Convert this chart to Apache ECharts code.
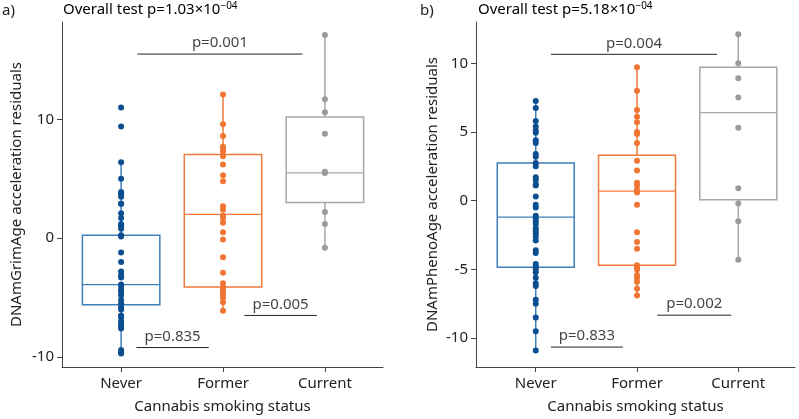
<!DOCTYPE html>
<html><head><meta charset="utf-8">
<script src="https://cdn.jsdelivr.net/npm/echarts@6/dist/echarts.min.js"></script>
<style>html,body{margin:0;padding:0;background:#fff}#c{width:799px;height:419px}</style>
</head><body><div id="c"></div>
<script>
const categories = ['Never','Former','Current'];
// Panel a: DNAmGrimAge
const grimNever = [11.0,9.4,6.4,5.0,3.9,3.7,3.5,2.9,2.9,2.1,1.7,1.2,1.0,0.8,0.25,0.15,-1.2,-2.0,-2.8,-3.1,-3.3,-3.9,-4.0,-4.3,-4.5,-4.8,-5.2,-5.5,-5.8,-6.0,-6.5,-6.7,-7.0,-7.2,-7.4,-7.6,-9.4,-9.6,-9.7];
const grimFormer = [12.1,9.6,8.6,7.7,7.5,7.3,6.9,6.2,5.3,4.8,2.7,2.4,1.9,1.7,1.3,0.5,-0.1,-1.6,-2.9,-3.8,-4.1,-4.3,-4.6,-4.8,-5.0,-5.4,-6.1];
const grimCurrent = [17.1,11.7,10.6,8.8,5.5,5.6,2.2,1.2,-0.8];
// [whiskerMin, Q1, median, Q3, whiskerMax]
const grimBoxes = [[-9.7,-5.6,-3.9,0.25,6.4],[-6.1,-4.1,2.0,7.05,12.1],[-0.8,3.0,5.5,10.2,17.1]];
// Panel b: DNAmPhenoAge
const phenoNever = [7.25,6.75,5.8,5.4,5.1,4.95,4.4,4.2,3.4,3.2,2.75,2.5,1.7,1.5,1.2,1.1,0.3,-0.3,-0.5,-1.1,-1.3,-1.5,-1.7,-2.0,-2.2,-2.4,-2.6,-2.9,-3.6,-3.8,-4.6,-4.8,-5.0,-5.2,-5.6,-6.0,-6.2,-7.2,-7.5,-8.5,-9.5,-10.9];
const phenoFormer = [9.7,8.0,6.6,6.1,5.7,5.0,4.85,4.2,2.9,2.2,1.3,1.1,0.8,0.6,-0.3,-2.3,-3.0,-3.5,-4.7,-4.85,-5.0,-5.4,-5.6,-5.9,-6.4,-6.9];
const phenoCurrent = [12.1,10.0,8.9,7.5,5.3,0.9,-0.2,-1.5,-4.3];
const phenoBoxes = [[-10.9,-4.85,-1.2,2.75,7.25],[-6.9,-4.7,0.7,3.3,9.7],[-4.3,0.07,6.4,9.7,12.1]];
// brackets: [x1, x2, y, label]
const grimBrackets = [[0.16,1.78,15.5,'p=0.001'],[0.15,0.86,-9.2,'p=0.835'],[1.21,1.92,-6.5,'p=0.005']];
const phenoBrackets = [[0.15,1.79,10.65,'p=0.004'],[0.15,0.86,-10.65,'p=0.833'],[1.2,1.93,-8.33,'p=0.002']];
const overallA = ['1.03','−04'];
const overallB = ['5.18','−04'];

const pointColors = ['#0b4f90','#f07533','#9b9b9b'];
const boxColors = ['#3f7fba','#f07a3c','#a8a8a8'];
const FONT = 'Noto Sans';

const chart = echarts.init(document.getElementById('c'));
const series = [];
function panel(idx, groups, boxes, brackets){
  groups.forEach((g,i)=>{
    const b = boxes[i];
    series.push({type:'line',xAxisIndex:idx,yAxisIndex:idx,data:[[i,b[0]],[i,b[1]]],symbol:'none',lineStyle:{color:boxColors[i],width:1.5},z:2,silent:true});
    series.push({type:'line',xAxisIndex:idx,yAxisIndex:idx,data:[[i,b[3]],[i,b[4]]],symbol:'none',lineStyle:{color:boxColors[i],width:1.5},z:2,silent:true});
    series.push({type:'custom',xAxisIndex:idx,yAxisIndex:idx,data:[[i,b[1],b[2],b[3]]],z:1,
      renderItem:(params,api)=>{
        const x=api.value(0), hw=0.38;
        const p1=api.coord([x-hw,api.value(3)]), p2=api.coord([x+hw,api.value(1)]);
        const m1=api.coord([x-hw,api.value(2)]), m2=api.coord([x+hw,api.value(2)]);
        return {type:'group',children:[
          {type:'rect',shape:{x:p1[0],y:p1[1],width:p2[0]-p1[0],height:p2[1]-p1[1]},style:{fill:'#fff',stroke:boxColors[i],lineWidth:1.5}},
          {type:'line',shape:{x1:m1[0],y1:m1[1],x2:m2[0],y2:m2[1]},style:{stroke:boxColors[i],lineWidth:1.2}}
        ]};
      }});
    series.push({type:'scatter',xAxisIndex:idx,yAxisIndex:idx,data:g.map(v=>[i,v]),symbolSize:6,itemStyle:{color:pointColors[i],opacity:1},z:5});
  });
  brackets.forEach(br=>{
    series.push({type:'line',xAxisIndex:idx,yAxisIndex:idx,data:[[br[0],br[2]],[br[1],br[2]]],symbol:'none',lineStyle:{color:'#222',width:1},silent:true});
    series.push({type:'scatter',xAxisIndex:idx,yAxisIndex:idx,data:[[(br[0]+br[1])/2,br[2]]],symbolSize:1,itemStyle:{color:'rgba(0,0,0,0)'},
      label:{show:true,position:'top',distance:3,formatter:br[3],color:'#111',fontSize:15,fontFamily:FONT},silent:true});
  });
}
panel(0,[grimNever,grimFormer,grimCurrent],grimBoxes,grimBrackets);
panel(1,[phenoNever,phenoFormer,phenoCurrent],phenoBoxes,phenoBrackets);

const xAxisBase = {type:'value',min:-0.58,max:2.57,splitLine:{show:false},
  axisLine:{onZero:false,lineStyle:{color:'#444'}},axisTick:{customValues:[0,1,2],lineStyle:{color:'#444'}},
  axisLabel:{customValues:[0,1,2],formatter:v=>categories[Math.round(v)],color:'#222',fontSize:15,fontFamily:FONT,margin:9},
  name:'Cannabis smoking status',nameLocation:'middle',nameGap:32,nameTextStyle:{color:'#222',fontSize:15,fontFamily:FONT}};
const yAxisBase = {type:'value',splitLine:{show:false},axisLine:{show:true,onZero:false,lineStyle:{color:'#444'}},axisTick:{show:true,lineStyle:{color:'#444'}},
  axisLabel:{color:'#222',fontSize:15,fontFamily:FONT},nameLocation:'middle',nameTextStyle:{color:'#222',fontSize:15,fontFamily:FONT}};
const supRich = {n:{fontSize:15,fontFamily:FONT,color:'#222'},s:{fontSize:10,fontFamily:FONT,color:'#222',verticalAlign:'top',padding:[0,0,8,0]}};
chart.setOption({
  animation:false,
  grid:[{left:62,top:22,width:321,height:346},{left:476,top:22,width:319,height:346}],
  xAxis:[Object.assign({gridIndex:0},xAxisBase),Object.assign({gridIndex:1},xAxisBase,{min:-0.59,max:2.56})],
  yAxis:[Object.assign({},yAxisBase,{gridIndex:0,min:-10.84,max:18.2,
      axisLabel:Object.assign({},yAxisBase.axisLabel,{customValues:[-10,0,10]}),axisTick:Object.assign({},yAxisBase.axisTick,{customValues:[-10,0,10]}),
      name:'DNAmGrimAge acceleration residuals',nameGap:38}),
    Object.assign({},yAxisBase,{gridIndex:1,min:-12.1,max:13.0,
      axisLabel:Object.assign({},yAxisBase.axisLabel,{customValues:[-10,-5,0,5,10]}),axisTick:Object.assign({},yAxisBase.axisTick,{customValues:[-10,-5,0,5,10]}),
      name:'DNAmPhenoAge acceleration residuals',nameGap:36})],
  graphic:[
    {type:'text',left:2,top:3,style:{text:'a)',fontSize:15,fontFamily:FONT,fill:'#222'}},
    {type:'text',left:420,top:3,style:{text:'b)',fontSize:15,fontFamily:FONT,fill:'#222'}},
    {type:'text',left:63,top:1,style:{text:'{n|Overall test p='+overallA[0]+'×10}{s|'+overallA[1]+'}',rich:supRich}},
    {type:'text',left:478,top:1,style:{text:'{n|Overall test p='+overallB[0]+'×10}{s|'+overallB[1]+'}',rich:supRich}}
  ],
  series:series
});
</script></body></html>
